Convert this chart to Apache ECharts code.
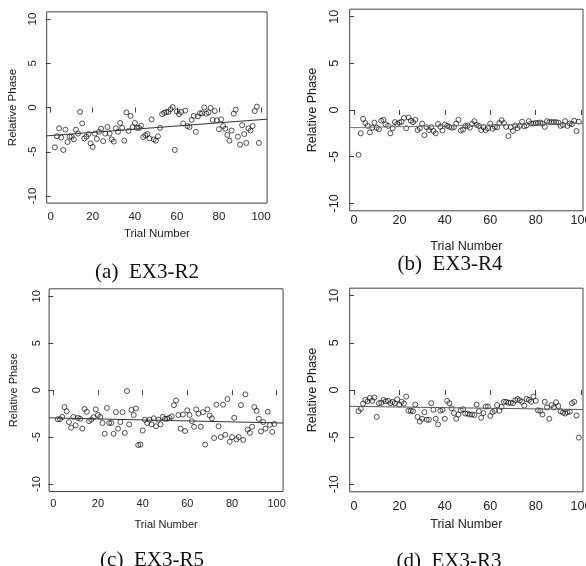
<!DOCTYPE html>
<html>
<head>
<meta charset="utf-8">
<script src="https://cdn.jsdelivr.net/npm/echarts@6/dist/echarts.min.js"></script>
<style>html,body{margin:0;padding:0;background:#fff;}#chart{width:586px;height:566px;}</style>
</head>
<body>
<div id="chart"></div>
<script>
// ---- data ----
const trials = [2,3,4,5,6,7,8,9,10,11,12,13,14,15,16,17,18,19,20,21,22,23,24,25,26,27,28,29,30,31,32,33,34,35,36,37,38,39,40,41,42,43,44,45,46,47,48,49,50,51,52,53,54,55,56,57,58,59,60,61,62,63,64,65,66,67,68,69,70,71,72,73,74,75,76,77,78,79,80,81,82,83,84,85,86,87,88,89,90,91,92,93,94,95,96,97,98,99];
const xTicks = [0, 20, 40, 60, 80, 100];
const yTicks = [-10, -5, 0, 5, 10];
const panelCaptions = ['(a)  EX3-R2', '(b)  EX3-R4', '(c)  EX3-R5', '(d)  EX3-R3'];
const r2Phase = [-4.5,-3.25,-2.35,-3.4,-4.8,-2.5,-3.9,-3.3,-3.3,-3.6,
  -2.5,-2.95,-0.5,-1.8,-3.5,-3.3,-3.0,-4.05,-4.45,-2.95,
  -3.55,-2.75,-2.4,-3.8,-2.95,-2.2,-2.95,-3.6,-3.85,-2.35,
  -2.75,-1.75,-2.3,-3.75,-0.55,-2.65,-0.95,-2.2,-1.75,-2.3,
  -2.3,-2.05,-3.35,-3.15,-3.0,-3.5,-1.35,-3.6,-3.75,-3.25,
  -2.3,-0.75,-0.6,-0.5,-0.5,-0.2,0.05,-4.8,-0.45,-0.75,
  -0.5,-1.8,-0.35,-2.1,-2.2,-1.4,-0.95,-2.75,-1.0,-0.65,
  -0.65,0,-0.7,-0.55,-0.05,-1.4,-0.4,-1.45,-2.45,-1.35,
  -2.1,-2.4,-3.1,-3.75,-2.6,-0.7,-0.25,-3.3,-4.2,-2.0,
  -3.0,-4.0,-2.35,-2.6,-2.1,-0.4,0.1,-4.0];
const r4Phase = [-4.8,-2.5,-0.95,-1.4,-1.7,-2.4,-1.9,-1.35,-1.9,-2.05,
  -1.15,-1.05,-1.55,-1.7,-2.5,-1.95,-1.3,-1.5,-1.35,-1.25,
  -0.85,-1.95,-0.8,-1.15,-1.3,-1.05,-2.15,-1.95,-1.45,-2.7,
  -1.85,-2.15,-1.85,-2.25,-2.5,-1.5,-1.8,-2.2,-1.55,-1.7,
  -1.8,-1.9,-1.85,-1.45,-1.05,-2.2,-2.1,-1.7,-1.7,-1.9,
  -1.5,-1.2,-1.6,-1.7,-2.15,-1.85,-2.15,-1.95,-1.45,-2.0,
  -1.8,-1.85,-1.4,-1.1,-1.4,-1.8,-2.8,-1.85,-2.25,-1.65,
  -1.95,-1.7,-1.25,-1.75,-1.65,-1.2,-1.45,-1.45,-1.4,-1.4,
  -1.35,-1.45,-1.8,-1.2,-1.3,-1.3,-1.3,-1.3,-1.35,-1.7,
  -1.6,-1.2,-1.7,-1.45,-1.5,-1.15,-2.25,-1.25];
const r5Phase = [-3.1,-3.1,-2.85,-1.8,-2.25,-3.4,-4.0,-2.85,-3.75,-2.95,
  -3.05,-4.1,-2.0,-2.3,-3.3,-3.15,-2.9,-2.05,-2.65,-2.85,
  -3.5,-4.65,-1.9,-3.5,-3.5,-4.65,-2.35,-4.1,-3.4,-2.35,
  -4.55,-0.1,-3.65,-2.1,-2.65,-1.95,-5.85,-5.8,-4.3,-3.15,
  -3.5,-3.15,-3.65,-3.0,-3.85,-3.15,-3.65,-2.85,-3.05,-3.05,
  -2.95,-2.8,-1.6,-1.1,-2.65,-4.1,-2.6,-4.35,-2.15,-2.65,
  -3.3,-3.9,-2.05,-2.5,-3.9,-2.35,-5.8,-2.05,-2.7,-3.0,
  -5.1,-1.55,-3.85,-5.0,-1.55,-4.75,-0.95,-5.5,-5.0,-2.95,
  -5.25,-5.0,-1.6,-5.3,-0.45,-4.2,-4.55,-3.9,-1.8,-2.2,
  -3.05,-4.4,-3.4,-4.1,-2.3,-3.7,-4.45,-3.6];
const r3Phase = [-2.25,-2.0,-1.45,-1.05,-1.2,-0.85,-1.15,-0.8,-2.85,-1.4,
  -1.35,-1.05,-1.2,-1.15,-1.4,-1.25,-1.4,-1.0,-1.55,-1.25,
  -1.45,-0.7,-2.2,-2.2,-2.25,-1.55,-2.85,-3.35,-3.05,-2.35,
  -3.15,-3.15,-1.4,-2.1,-3.05,-3.65,-2.2,-2.1,-3.05,-1.15,
  -1.4,-1.95,-2.45,-3.05,-2.6,-2.15,-2.05,-2.5,-2.5,-2.6,
  -2.6,-2.65,-1.55,-2.25,-2.95,-2.45,-1.75,-1.75,-2.75,-2.35,
  -2.2,-1.6,-2.2,-1.8,-1.25,-1.25,-1.35,-1.35,-1.4,-1.1,
  -0.95,-1.1,-1.25,-1.65,-0.95,-1.05,-1.25,-0.7,-1.15,-2.15,
  -2.2,-2.6,-1.25,-1.85,-3.05,-1.6,-1.85,-1.3,-1.7,-2.25,
  -2.4,-2.5,-2.35,-2.3,-1.4,-1.25,-2.7,-5.05];
// fitted regression lines (intercept, slope)
const fitIntercept = [-3.17, -1.88, -2.96, -1.74];
const fitSlope = [0.018, 0.0045, -0.0053, -0.0033];

const phaseSeries = [r2Phase, r4Phase, r5Phase, r3Phase];

// ---- layout (positions/styles only) ----
const panels = [
  {left: 46.7, top: 11.9, width: 220.4, height: 191.2, xmin: -1.88, xmax: 102.88, fs: 11.5,
   yLabM: 7.5, yNameGap: 27.5, xLabM: 7.5, xNameGap: 25, cap: [147, 272], lineColor: '#333'},
  {left: 349.7, top: 9.2, width: 233.3, height: 201.6, xmin: -1.89, xmax: 100.84, fs: 12.6,
   yLabM: 9, yNameGap: 30.5, xLabM: 3, xNameGap: 29, cap: [450, 264], lineColor: '#777'},
  {left: 49.1, top: 288.8, width: 234, height: 202.7, xmin: -1.88, xmax: 102.88, fs: 11,
   yLabM: 6.5, yNameGap: 29.5, xLabM: 7, xNameGap: 28, cap: [152, 560], lineColor: '#333'},
  {left: 349.7, top: 288.2, width: 233.3, height: 203.6, xmin: -1.89, xmax: 100.84, fs: 12.6,
   yLabM: 9, yNameGap: 30.5, xLabM: 8, xNameGap: 26, cap: [449, 561], lineColor: '#555'}
];

const font = 'Liberation Sans, Arial, sans-serif';
const grid = [], xAxis = [], yAxis = [], series = [], graphic = [];
panels.forEach((p, i) => {
  grid.push({left: p.left, top: p.top, width: p.width, height: p.height, show: true,
    outerBoundsMode: 'none', containLabel: false,
    borderColor: '#444', borderWidth: 1, backgroundColor: 'transparent'});
  xAxis.push({type: 'value', gridIndex: i, min: p.xmin, max: p.xmax,
    name: 'Trial Number', nameLocation: 'middle', nameGap: p.xNameGap, nameMoveOverlap: false,
    nameTextStyle: {fontFamily: font, fontSize: p.fs, color: '#222'},
    axisLine: {show: false},
    axisTick: {show: true, customValues: xTicks, length: 5, lineStyle: {color: '#444'}},
    axisLabel: {customValues: xTicks, margin: p.xLabM, fontFamily: font, fontSize: p.fs, color: '#222', showMinLabel: true, showMaxLabel: true, hideOverlap: false},
    splitLine: {show: false}});
  yAxis.push({type: 'value', gridIndex: i, min: -10.8, max: 10.8,
    name: 'Relative Phase', nameLocation: 'middle', nameGap: p.yNameGap, nameMoveOverlap: false,
    nameTextStyle: {fontFamily: font, fontSize: p.fs, color: '#222'},
    axisLine: {show: false},
    axisTick: {show: true, customValues: yTicks, length: 5, lineStyle: {color: '#444'}},
    axisLabel: {customValues: yTicks, rotate: 90, margin: p.yLabM, fontFamily: font, fontSize: p.fs, color: '#222', hideOverlap: false},
    splitLine: {show: false}});
  series.push({type: 'scatter', xAxisIndex: i, yAxisIndex: i, symbol: 'circle', symbolSize: 5,
    itemStyle: {color: 'rgba(0,0,0,0)', borderColor: '#111', borderWidth: 0.9},
    data: trials.map((t, k) => [t, phaseSeries[i][k]]), silent: true});
  series.push({type: 'line', xAxisIndex: i, yAxisIndex: i, showSymbol: false, silent: true,
    lineStyle: {color: p.lineColor, width: 1}, clip: true,
    data: [[p.xmin, fitIntercept[i] + fitSlope[i] * p.xmin], [p.xmax, fitIntercept[i] + fitSlope[i] * p.xmax]]});
  graphic.push({type: 'text', x: p.cap[0], y: p.cap[1],
    style: {text: panelCaptions[i], font: '21px "Liberation Serif", "DejaVu Serif", serif', fill: '#111', textAlign: 'center', textVerticalAlign: 'middle'}});
});

const chart = echarts.init(document.getElementById('chart'), null, {renderer: 'canvas'});
chart.setOption({animation: false, backgroundColor: '#fff', grid, xAxis, yAxis, series, graphic});
</script>
</body>
</html>
